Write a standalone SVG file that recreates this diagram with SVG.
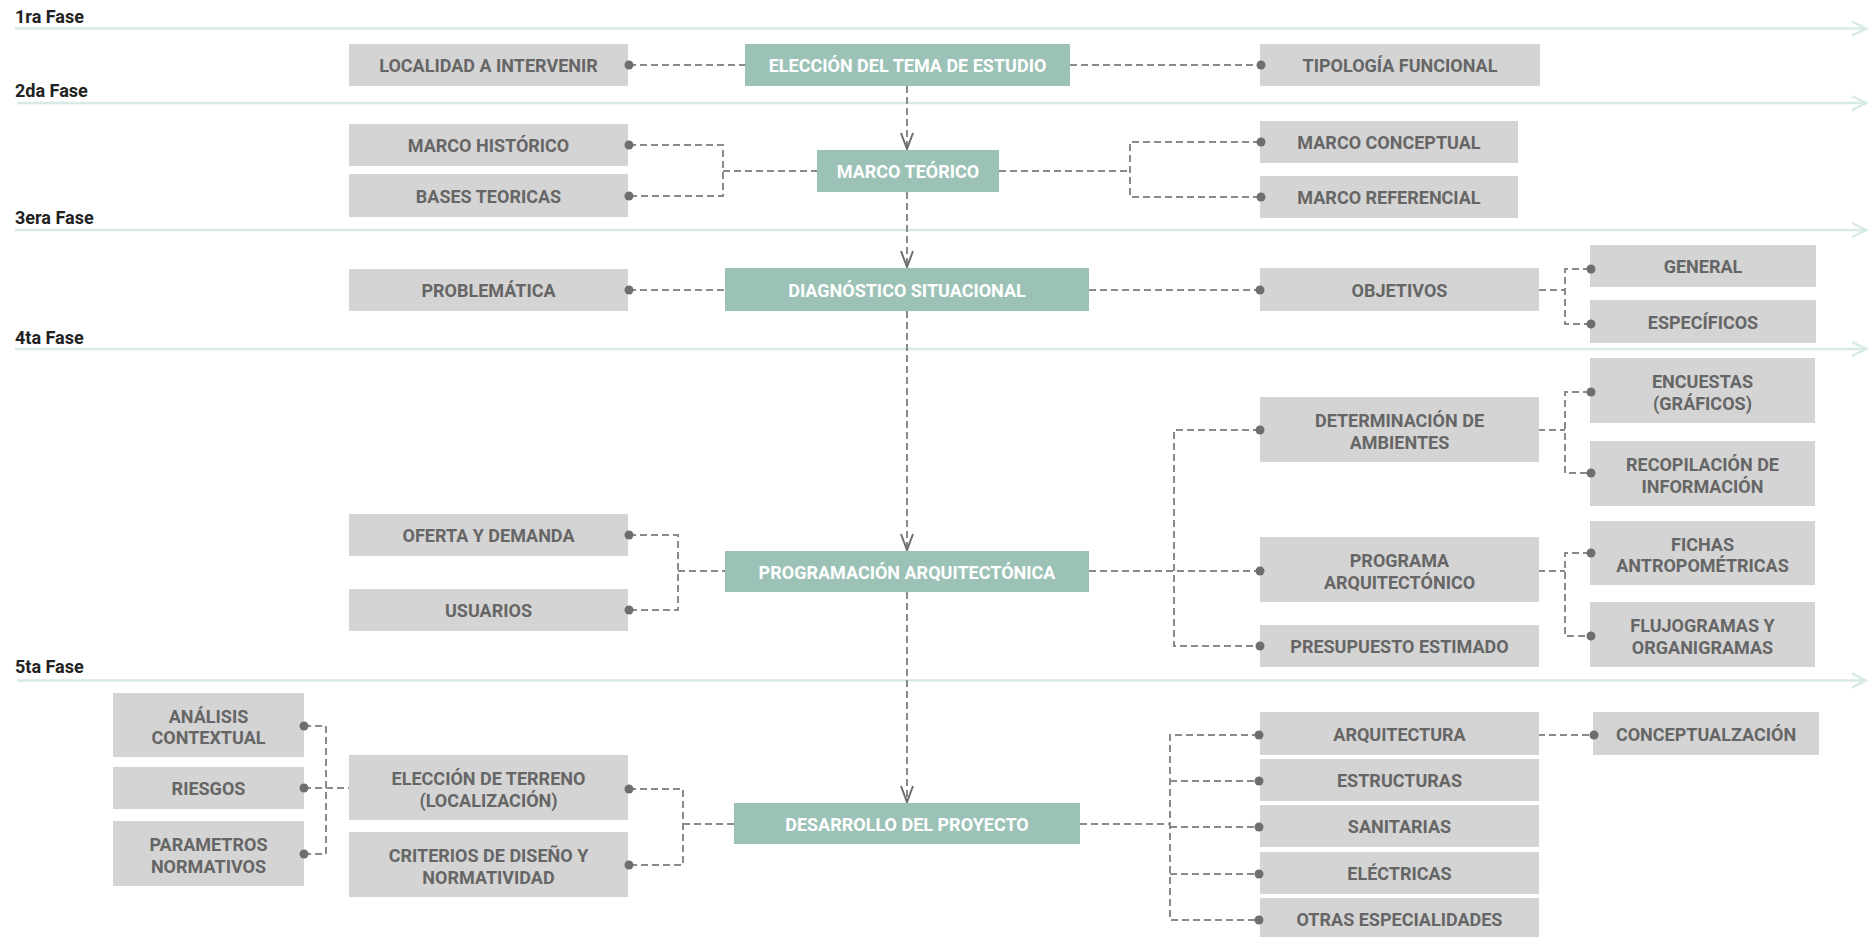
<svg xmlns="http://www.w3.org/2000/svg" width="1869" height="937" viewBox="0 0 1869 937">
<defs>
<style>
text{font-family:Roboto,"Liberation Sans","DejaVu Sans",sans-serif;font-weight:700}
.g rect{fill:#d4d4d4}
.g text{fill:#666666;font-size:18px;text-anchor:middle}
.t rect{fill:#9cc2b7}
.t text{fill:#ffffff;font-size:18px;text-anchor:middle}
.ph{fill:#222222;font-size:18px}
.pl{stroke:#d7eae5;stroke-width:2.5;fill:none}
.c{fill:none;stroke:#8a8a8a;stroke-width:2;stroke-dasharray:7 4}
.d{fill:#6e6e6e}
</style>
<marker id="arr" markerUnits="userSpaceOnUse" viewBox="0 0 20 14" markerWidth="20" markerHeight="14" refX="18" refY="7" orient="auto">
<path d="M2,1 L18,7 L2,13" fill="none" stroke="#6e6e6e" stroke-width="2"/>
</marker>
<marker id="pa" markerUnits="userSpaceOnUse" viewBox="0 0 18 18" markerWidth="18" markerHeight="18" refX="16" refY="9" orient="auto">
<path d="M2,2 L16,9 L2,16" fill="none" stroke="#d7eae5" stroke-width="2.5"/>
</marker>
</defs>
<rect width="1869" height="937" fill="#ffffff"/>

<g id="phases">
<text class="ph" x="15" y="23">1ra Fase</text>
<line class="pl" x1="15" y1="28.5" x2="1866" y2="28.5" marker-end="url(#pa)"/>
<text class="ph" x="15" y="97">2da Fase</text>
<line class="pl" x1="17" y1="103" x2="1866" y2="103" marker-end="url(#pa)"/>
<text class="ph" x="15" y="224">3era Fase</text>
<line class="pl" x1="15" y1="230" x2="1866" y2="230" marker-end="url(#pa)"/>
<text class="ph" x="15" y="344">4ta Fase</text>
<line class="pl" x1="15" y1="349" x2="1866" y2="349" marker-end="url(#pa)"/>
<text class="ph" x="15" y="673">5ta Fase</text>
<line class="pl" x1="17" y1="680.5" x2="1866" y2="680.5" marker-end="url(#pa)"/>
</g>

<g id="connectors">
<path class="c" d="M629,65 H745"/>
<path class="c" d="M1070,65 H1260"/>
<path class="c" d="M907,86 V149" marker-end="url(#arr)"/>
<path class="c" d="M907,192 V267" marker-end="url(#arr)"/>
<path class="c" d="M907,311 V550" marker-end="url(#arr)"/>
<path class="c" d="M907,592 V802" marker-end="url(#arr)"/>
<path class="c" d="M629,145 H723 V196 H629 M723,171 H817"/>
<path class="c" d="M999,171 H1130 M1260,142 H1130 V197 H1260"/>
<path class="c" d="M629,290 H725"/>
<path class="c" d="M1089,290 H1259"/>
<path class="c" d="M1539,290 H1565 M1590,269 H1565 V324 H1590"/>
<path class="c" d="M629,535 H678 V610 H629 M678,571 H725"/>
<path class="c" d="M1089,571 H1260 M1260,430 H1174 V646 H1260"/>
<path class="c" d="M1538,430 H1565 M1590,392 H1565 V473 H1590"/>
<path class="c" d="M1538,571 H1565 M1590,553 H1565 V636 H1590"/>
<path class="c" d="M304,726 H326 V854 H304 M304,788 H349"/>
<path class="c" d="M629,789 H683 V865 H629 M683,824 H734"/>
<path class="c" d="M1080,824 H1170 M1259,735 H1170 V920 H1259 M1170,781 H1259 M1170,827 H1259 M1170,874 H1259"/>
<path class="c" d="M1538,735 H1593"/>
</g>

<g id="n-localidad" class="g"><rect x="349" y="44" width="279" height="42"/><text x="488.5" y="72">LOCALIDAD A INTERVENIR</text></g>
<g id="n-eleccion" class="t"><rect x="745" y="44" width="325" height="42"/><text x="907.5" y="72">ELECCIÓN DEL TEMA DE ESTUDIO</text></g>
<g id="n-tipologia" class="g"><rect x="1260" y="44" width="280" height="42"/><text x="1400" y="72">TIPOLOGÍA FUNCIONAL</text></g>

<g id="n-historico" class="g"><rect x="349" y="124" width="279" height="42"/><text x="488.5" y="152">MARCO HISTÓRICO</text></g>
<g id="n-bases" class="g"><rect x="349" y="174" width="279" height="43"/><text x="488.5" y="202.5">BASES TEORICAS</text></g>
<g id="n-teorico" class="t"><rect x="817" y="150" width="182" height="42"/><text x="908" y="178">MARCO TEÓRICO</text></g>
<g id="n-conceptual" class="g"><rect x="1260" y="121" width="258" height="42"/><text x="1389" y="149">MARCO CONCEPTUAL</text></g>
<g id="n-referencial" class="g"><rect x="1260" y="176" width="258" height="42"/><text x="1389" y="204">MARCO REFERENCIAL</text></g>

<g id="n-problematica" class="g"><rect x="349" y="269" width="279" height="42"/><text x="488.5" y="297">PROBLEMÁTICA</text></g>
<g id="n-diagnostico" class="t"><rect x="725" y="268" width="364" height="43"/><text x="907" y="296.5">DIAGNÓSTICO SITUACIONAL</text></g>
<g id="n-objetivos" class="g"><rect x="1260" y="268" width="279" height="43"/><text x="1399.5" y="296.5">OBJETIVOS</text></g>
<g id="n-general" class="g"><rect x="1590" y="245" width="226" height="42"/><text x="1703" y="273">GENERAL</text></g>
<g id="n-especificos" class="g"><rect x="1590" y="300" width="226" height="43"/><text x="1703" y="328.5">ESPECÍFICOS</text></g>

<g id="n-determinacion" class="g"><rect x="1260" y="397" width="279" height="65"/><text x="1399.5" y="427">DETERMINACIÓN DE</text><text x="1399.5" y="448.5">AMBIENTES</text></g>
<g id="n-encuestas" class="g"><rect x="1590" y="358" width="225" height="65"/><text x="1702.5" y="388">ENCUESTAS</text><text x="1702.5" y="409.5">(GRÁFICOS)</text></g>
<g id="n-recopilacion" class="g"><rect x="1590" y="441" width="225" height="65"/><text x="1702.5" y="471">RECOPILACIÓN DE</text><text x="1702.5" y="492.5">INFORMACIÓN</text></g>
<g id="n-oferta" class="g"><rect x="349" y="514" width="279" height="42"/><text x="488.5" y="542">OFERTA Y DEMANDA</text></g>
<g id="n-usuarios" class="g"><rect x="349" y="589" width="279" height="42"/><text x="488.5" y="617">USUARIOS</text></g>
<g id="n-programacion" class="t"><rect x="725" y="551" width="364" height="41"/><text x="907" y="578.5">PROGRAMACIÓN ARQUITECTÓNICA</text></g>
<g id="n-programa" class="g"><rect x="1260" y="537" width="279" height="65"/><text x="1399.5" y="567">PROGRAMA</text><text x="1399.5" y="588.5">ARQUITECTÓNICO</text></g>
<g id="n-fichas" class="g"><rect x="1590" y="521" width="225" height="64"/><text x="1702.5" y="550.5">FICHAS</text><text x="1702.5" y="572">ANTROPOMÉTRICAS</text></g>
<g id="n-flujogramas" class="g"><rect x="1590" y="602" width="225" height="65"/><text x="1702.5" y="632">FLUJOGRAMAS Y</text><text x="1702.5" y="653.5">ORGANIGRAMAS</text></g>
<g id="n-presupuesto" class="g"><rect x="1260" y="625" width="279" height="42"/><text x="1399.5" y="653">PRESUPUESTO ESTIMADO</text></g>

<g id="n-analisis" class="g"><rect x="113" y="693" width="191" height="64"/><text x="208.5" y="722.5">ANÁLISIS</text><text x="208.5" y="744">CONTEXTUAL</text></g>
<g id="n-riesgos" class="g"><rect x="113" y="767" width="191" height="42"/><text x="208.5" y="795">RIESGOS</text></g>
<g id="n-parametros" class="g"><rect x="113" y="821" width="191" height="65"/><text x="208.5" y="851">PARAMETROS</text><text x="208.5" y="872.5">NORMATIVOS</text></g>
<g id="n-terreno" class="g"><rect x="349" y="755" width="279" height="65"/><text x="488.5" y="785">ELECCIÓN DE TERRENO</text><text x="488.5" y="806.5">(LOCALIZACIÓN)</text></g>
<g id="n-criterios" class="g"><rect x="349" y="832" width="279" height="65"/><text x="488.5" y="862">CRITERIOS DE DISEÑO Y</text><text x="488.5" y="883.5">NORMATIVIDAD</text></g>
<g id="n-desarrollo" class="t"><rect x="734" y="803" width="346" height="41"/><text x="907" y="830.5">DESARROLLO DEL PROYECTO</text></g>
<g id="n-arquitectura" class="g"><rect x="1260" y="712" width="279" height="43"/><text x="1399.5" y="740.5">ARQUITECTURA</text></g>
<g id="n-estructuras" class="g"><rect x="1260" y="759" width="279" height="42"/><text x="1399.5" y="787">ESTRUCTURAS</text></g>
<g id="n-sanitarias" class="g"><rect x="1260" y="805" width="279" height="42"/><text x="1399.5" y="833">SANITARIAS</text></g>
<g id="n-electricas" class="g"><rect x="1260" y="852" width="279" height="42"/><text x="1399.5" y="880">ELÉCTRICAS</text></g>
<g id="n-otras" class="g"><rect x="1260" y="898" width="279" height="42"/><text x="1399.5" y="926">OTRAS ESPECIALIDADES</text></g>
<g id="n-conceptualizacion" class="g"><rect x="1593" y="712" width="226" height="43"/><text x="1706" y="740.5">CONCEPTUALZACIÓN</text></g>

<g id="dots" class="d">
<circle cx="629" cy="65" r="4.5"/><circle cx="1261" cy="65" r="4.5"/>
<circle cx="629" cy="145" r="4.5"/><circle cx="629" cy="196" r="4.5"/>
<circle cx="1261" cy="142" r="4.5"/><circle cx="1261" cy="197" r="4.5"/>
<circle cx="629" cy="290" r="4.5"/><circle cx="1260" cy="290" r="4.5"/>
<circle cx="1591" cy="269" r="4.5"/><circle cx="1591" cy="324" r="4.5"/>
<circle cx="629" cy="535" r="4.5"/><circle cx="629" cy="610" r="4.5"/>
<circle cx="1260" cy="430" r="4.5"/><circle cx="1260" cy="571" r="4.5"/><circle cx="1260" cy="646" r="4.5"/>
<circle cx="1591" cy="392" r="4.5"/><circle cx="1591" cy="473" r="4.5"/>
<circle cx="1591" cy="553" r="4.5"/><circle cx="1591" cy="636" r="4.5"/>
<circle cx="304" cy="726" r="4.5"/><circle cx="304" cy="788" r="4.5"/><circle cx="304" cy="854" r="4.5"/>
<circle cx="629" cy="789" r="4.5"/><circle cx="629" cy="865" r="4.5"/>
<circle cx="1259" cy="735" r="4.5"/><circle cx="1259" cy="781" r="4.5"/><circle cx="1259" cy="827" r="4.5"/><circle cx="1259" cy="874" r="4.5"/><circle cx="1259" cy="920" r="4.5"/>
<circle cx="1594" cy="735" r="4.5"/>
</g>
</svg>
